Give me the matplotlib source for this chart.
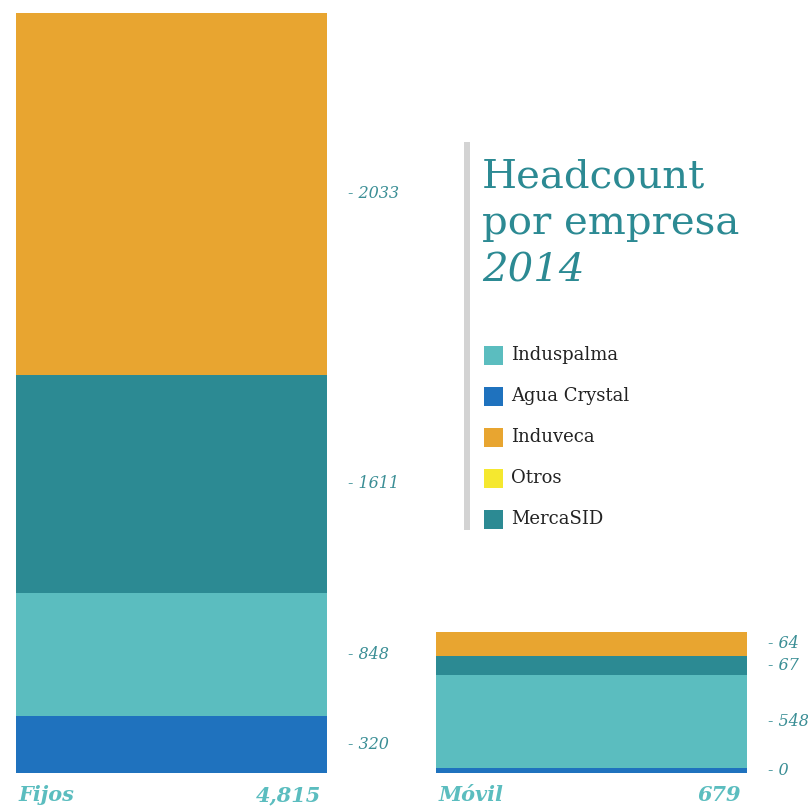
import matplotlib.pyplot as plt
from matplotlib.patches import Rectangle

# companies, bottom to top within each bar
companies = ["Agua Crystal", "Induspalma", "MercaSID", "Induveca"]
colors = ["#1F72BE", "#5BBDBF", "#2C8A93", "#E8A530"]

# segment heights as drawn in the picture (px), and the printed values
fijos_h = [57, 123, 218, 362]
movil_h = [5, 93, 19, 24]
fijos_lbl = ["320", "848", "1611", "2033"]
movil_lbl = ["0", "548", "67", "64"]
bars = ["Fijos", "Móvil"]
totals = ["4,815", "679"]

legend_names = ["Induspalma", "Agua Crystal", "Induveca", "Otros", "MercaSID"]
legend_colors = ["#5BBDBF", "#1F72BE", "#E8A530", "#F5E82F", "#2C8A93"]

W, H = 808, 809
fig = plt.figure(figsize=(W / 100, H / 100), dpi=100)
ax = fig.add_axes([16 / W, 36 / H, (747 - 16) / W, 760 / H])
width = 311 / 420
ax.set_xlim(-width / 2, 1 + width / 2)
ax.set_ylim(0, sum(fijos_h))
ax.axis("off")

serif = ["DejaVu Serif"]
teal_txt = "#3A8E95"

for i, (hs, lbls) in enumerate([(fijos_h, fijos_lbl), (movil_h, movil_lbl)]):
    bottom = 0
    for h, c, l in zip(hs, colors, lbls):
        ax.bar(i, h, bottom=bottom, width=width, color=c, linewidth=0)
        ax.text(i + width / 2 + 0.05, bottom + h / 2, "- " + l, fontsize=11.5,
                style="italic", color=teal_txt, family=serif,
                ha="left", va="center")
        bottom += h
    ax.text(i - width / 2 + 0.005, -12, bars[i], fontsize=15, style="italic",
            weight="bold", color="#5BBDBF", family=serif, ha="left", va="top")
    ax.text(i + width / 2 - 0.015, -12, totals[i], fontsize=15, style="italic",
            weight="bold", color="#5BBDBF", family=serif, ha="right", va="top")

# title block with grey bar
fig.add_artist(Rectangle((464 / W, 1 - 530 / H), 6 / W, 388 / H,
                         color="#D3D3D3", transform=fig.transFigure, lw=0))
fig.text(482 / W, 1 - 187 / H, "Headcount", fontsize=29, color="#2C8A93",
         family=serif, va="baseline")
fig.text(482 / W, 1 - 234 / H, "por empresa", fontsize=29, color="#2C8A93",
         family=serif, va="baseline")
fig.text(482 / W, 1 - 282 / H, "2014", fontsize=29, color="#2C8A93",
         family=serif, style="italic", va="baseline")

for k, (n, c) in enumerate(zip(legend_names, legend_colors)):
    yc = 355 + 41 * k
    fig.add_artist(Rectangle((484 / W, 1 - (yc + 10) / H), 19 / W, 19 / H,
                             color=c, transform=fig.transFigure, lw=0))
    fig.text(511 / W, 1 - yc / H, n, fontsize=13, color="#222222",
             family=serif, va="center")

fig.savefig("out.png", dpi=100)
